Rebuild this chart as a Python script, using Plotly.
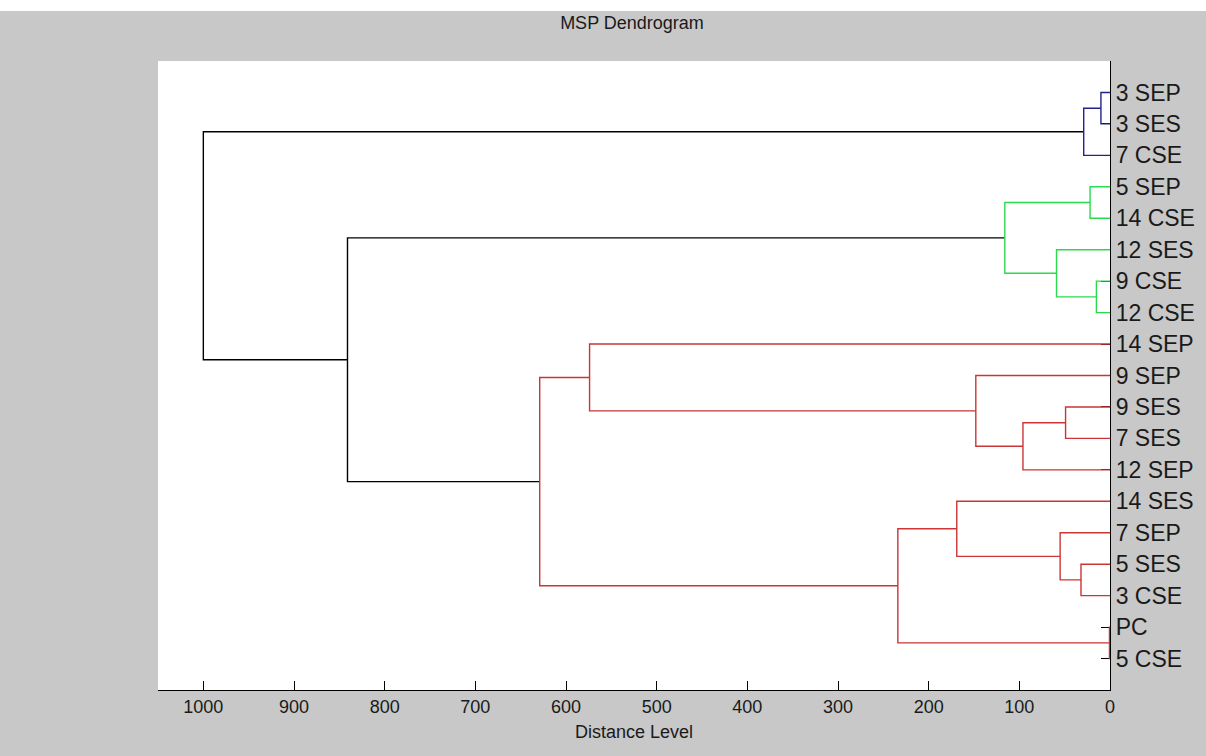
import plotly.graph_objects as go

# Leaf labels, top to bottom
leaf_labels = ["3 SEP", "3 SES", "7 CSE", "5 SEP", "14 CSE", "12 SES", "9 CSE", "12 CSE",
               "14 SEP", "9 SEP", "9 SES", "7 SES", "12 SEP", "14 SES", "7 SEP", "5 SES",
               "3 CSE", "PC", "5 CSE"]

# Merges: (name, child_a, child_b, distance, cluster colour key)
merge_names = ["B1", "B2", "G1", "G2", "G3", "G4", "R1", "R2", "R3", "R4", "R5", "R6",
               "R7", "R8", "R9", "R10", "K1", "K2"]
merge_a = ["3 SEP", "B1", "5 SEP", "9 CSE", "12 SES", "G1", "9 SES", "R1", "9 SEP", "14 SEP",
           "5 SES", "7 SEP", "14 SES", "PC", "R7", "R4", "G4", "B2"]
merge_b = ["3 SES", "7 CSE", "14 CSE", "12 CSE", "G2", "G3", "7 SES", "12 SEP", "R2", "R3",
           "3 CSE", "R5", "R6", "5 CSE", "R8", "R9", "R10", "K1"]
merge_dist = [10, 29, 22, 15, 59, 116, 49, 96, 148, 574, 32, 55, 169, 0.6, 234, 629, 841, 1000]
merge_group = ["blue", "blue", "green", "green", "green", "green", "red", "red", "red", "red",
               "red", "red", "red", "red", "red", "red", "black", "black"]

x_ticks = [1000, 900, 800, 700, 600, 500, 400, 300, 200, 100, 0]

colors = {"blue": "#23238c", "green": "#2ada4c", "red": "#cc3535", "black": "#000000"}

n = len(leaf_labels)
ypos = {lab: n - i for i, lab in enumerate(leaf_labels)}
xpos = {lab: 0.0 for lab in leaf_labels}

segs = {k: ([], []) for k in colors}
for name, a, b, d, g in zip(merge_names, merge_a, merge_b, merge_dist, merge_group):
    xs, ys = segs[g]
    xs += [xpos[a], d, d, xpos[b], None]
    ys += [ypos[a], ypos[a], ypos[b], ypos[b], None]
    xpos[name] = d
    ypos[name] = (ypos[a] + ypos[b]) / 2

fig = go.Figure()
for g in ["black", "red", "green", "blue"]:
    xs, ys = segs[g]
    fig.add_trace(go.Scatter(x=xs, y=ys, mode="lines",
                             line=dict(color=colors[g], width=1.4),
                             hoverinfo="skip", showlegend=False))

font_family = "Liberation Sans, Arial, sans-serif"
fig.update_layout(
    width=1206, height=756,
    margin=dict(l=158, r=96, t=61, b=66),
    paper_bgcolor="#c8c8c8",
    plot_bgcolor="#ffffff",
    font=dict(family=font_family, color="#1a1a1a"),
    title=dict(text="MSP Dendrogram", x=632 / 1206, xanchor="center", y=1 - 23 / 756,
               yanchor="middle", font=dict(size=18, color="#1a1a1a")),
    xaxis=dict(range=[1050, 0], tickvals=x_ticks, ticktext=[str(v) for v in x_ticks],
               ticks="inside", ticklen=9, tickcolor="#000", tickwidth=1,
               showline=True, linecolor="#000", linewidth=1.2, mirror=False,
               showgrid=False, zeroline=False, tickfont=dict(size=18),
               title=dict(text="Distance Level", font=dict(size=18), standoff=9)),
    yaxis=dict(range=[0, n + 1], side="right",
               tickvals=[ypos[l] for l in leaf_labels], ticktext=leaf_labels,
               ticks="inside", ticklen=9, tickcolor="#000", tickwidth=1,
               showline=True, linecolor="#000", linewidth=1.2, mirror=False,
               showgrid=False, zeroline=False, layer="below traces",
               tickfont=dict(size=23)),
    shapes=[dict(type="rect", xref="paper", yref="paper", x0=-0.3, x1=1.3,
                 y0=(690 - 11) / 629, y1=1.3, fillcolor="#ffffff", line=dict(width=0),
                 layer="below")],
)

fig.write_html("out.html", config={"displayModeBar": False},
               post_script="document.body.style.margin='0';document.body.style.overflow='hidden';")
